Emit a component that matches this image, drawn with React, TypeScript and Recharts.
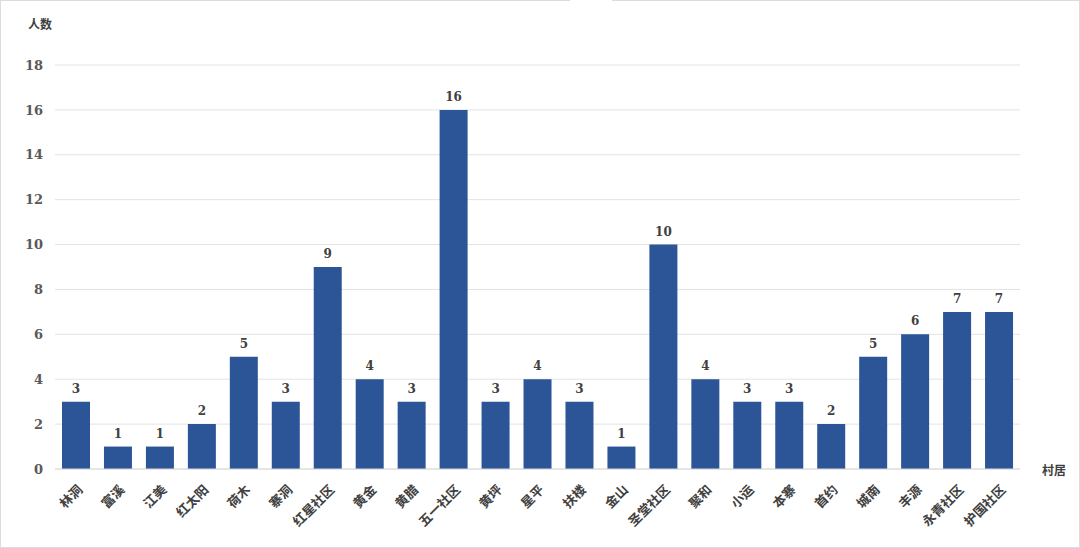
import React from "react";
import { BarChart, Bar, XAxis, YAxis, CartesianGrid, LabelList } from "recharts";

const villages = [
  "林洞", "富溪", "江美", "红太阳", "荷木", "寨洞", "红星社区", "黄金", "黄腊", "五一社区",
  "黄坪", "星平", "扶楼", "金山", "圣堂社区", "聚和", "小运", "本寨", "首约", "城南",
  "丰源", "永青社区", "护国社区",
];
const counts = [3, 1, 1, 2, 5, 3, 9, 4, 3, 16, 3, 4, 3, 1, 10, 4, 3, 3, 2, 5, 6, 7, 7];
const yTicks = [0, 2, 4, 6, 8, 10, 12, 14, 16, 18];

const data = villages.map((name, i) => ({ name, value: counts[i] }));

const cjk = '"Noto Sans CJK SC", "Noto Sans", sans-serif';
const serif = '"DejaVu Serif", "Liberation Serif", serif';

function RotatedTick(props: any) {
  const { x, y, payload } = props;
  return (
    <g transform={`translate(${x + 5},${y + 11})`}>
      <text
        transform="rotate(-45)"
        textAnchor="end"
        dominantBaseline="middle"
        fontFamily={cjk}
        fontWeight="bold"
        fontSize={13}
        fill="#404040"
      >
        {payload.value}
      </text>
    </g>
  );
}

export default function App() {
  return (
    <div style={{ position: "absolute", left: 0, top: 0, width: 1080, height: 548, background: "#fff" }}>
      <div
        style={{
          position: "absolute", left: 0, top: 0, width: 1078, height: 546,
          border: "1px solid #dcdcdc",
        }}
      />
      <div style={{ position: "absolute", left: 570, top: 0, width: 42, height: 2, background: "#fff" }} />
      <div
        style={{
          position: "absolute", left: 28, top: 15, fontFamily: cjk, fontWeight: "bold",
          fontSize: 12, color: "#404040",
        }}
      >
        人数
      </div>
      <div
        style={{
          position: "absolute", left: 1042, top: 461, fontFamily: cjk, fontWeight: "bold",
          fontSize: 12, color: "#404040",
        }}
      >
        村居
      </div>
      <BarChart
        width={1080}
        height={548}
        data={data}
        margin={{ top: 65, right: 60, bottom: 0, left: 0 }}
        barSize={28}
      >
        <CartesianGrid vertical={false} stroke="#e3e3e3" />
        <XAxis
          dataKey="name"
          interval={0}
          tickLine={false}
          axisLine={{ stroke: "#d9d9d9" }}
          tick={<RotatedTick />}
          height={79}
        />
        <YAxis
          width={55}
          domain={[0, 18]}
          ticks={yTicks}
          axisLine={false}
          tickLine={false}
          tickMargin={6}
          tick={{ fontFamily: serif, fontWeight: "bold", fontSize: 13, fill: "#595959" }}
        />
        <Bar dataKey="value" fill="#2B5597" isAnimationActive={false}>
          <LabelList
            dataKey="value"
            position="top"
            offset={9}
            style={{ fontFamily: serif, fontWeight: "bold", fontSize: 12, fill: "#404040" }}
          />
        </Bar>
      </BarChart>
    </div>
  );
}
